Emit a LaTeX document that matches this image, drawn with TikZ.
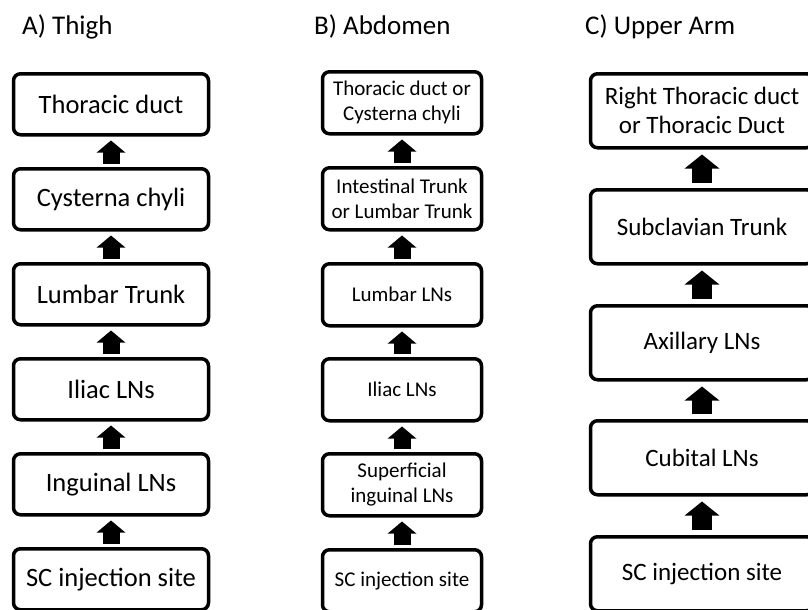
\documentclass[tikz,border=0pt]{standalone}
\usepackage{fontspec}
\setmainfont{Carlito}
\usetikzlibrary{arrows.meta,calc}
\begin{document}
\begin{tikzpicture}[x=1pt,y=-1pt,
  box/.style={draw=black, line width=3.5pt, rounded corners=7pt, fill=white, align=center, inner sep=0pt, anchor=north},
  boxA/.style={box, minimum width=195pt, minimum height=61pt, font=\fontsize{26.5}{31}\selectfont},
  boxB/.style={box, minimum width=159pt, minimum height=62pt, font=\fontsize{21}{25}\selectfont},
  boxC/.style={box, minimum width=223pt, minimum height=74pt, font=\fontsize{25}{29}\selectfont},
  upA/.style={line width=17pt, -{Triangle[width=28pt,length=12pt]}},
  upC/.style={line width=20pt, -{Triangle[width=34pt,length=14pt]}},
  title/.style={anchor=base west, inner sep=0pt, font=\fontsize{27}{32}\selectfont},
]
\clip (0,0) rectangle (808,610);
% titles
\node[title] (ta) at (22,35) {A) Thigh};
\node[title] (tb) at (314,35) {B) Abdomen};
\node[title] (tc) at (585,35) {C) Upper Arm};
% column A
\node[boxA] (a1) at (111,72)  {Thoracic duct};
\node[boxA] (a2) at (111,167) {Cysterna chyli};
\node[boxA] (a3) at (111,262) {Lumbar Trunk};
\node[boxA] (a4) at (111,357) {Iliac LNs};
\node[boxA] (a5) at (111,452) {Inguinal LNs};
\node[boxA] (a6) at (111,547) {SC injection site};
% column B
\node[boxB] (b1) at (402,70)  {Thoracic duct or\\Cysterna chyli};
\node[boxB] (b2) at (402,166) {Intestinal Trunk\\or Lumbar Trunk};
\node[boxB] (b3) at (402,262) {Lumbar LNs};
\node[boxB] (b4) at (402,357) {Iliac LNs};
\node[boxB] (b5) at (402,452) {Superficial\\inguinal LNs};
\node[boxB] (b6) at (402,548) {SC injection site};
% column C
\node[boxC] (c1) at (702,72)  {Right Thoracic duct\\or Thoracic Duct};
\node[boxC] (c2) at (702,188) {Subclavian Trunk};
\node[boxC] (c3) at (702,304) {Axillary LNs};
\node[boxC] (c4) at (702,419) {Cubital LNs};
\node[boxC] (c5) at (702,535) {SC injection site};
% arrows
\foreach \lo/\hi in {a2/a1,a3/a2,a4/a3,a5/a4,a6/a5,b2/b1,b3/b2,b4/b3,b5/b4,b6/b5}{
  \draw[upA] ($(\lo.north)+(0,-3)$) -- ($(\hi.south)+(0,4)$);
}
\foreach \lo/\hi in {c2/c1,c3/c2,c4/c3,c5/c4}{
  \draw[upC] ($(\lo.north)+(0,-5)$) -- ($(\hi.south)+(0,5)$);
}
\end{tikzpicture}
\end{document}
